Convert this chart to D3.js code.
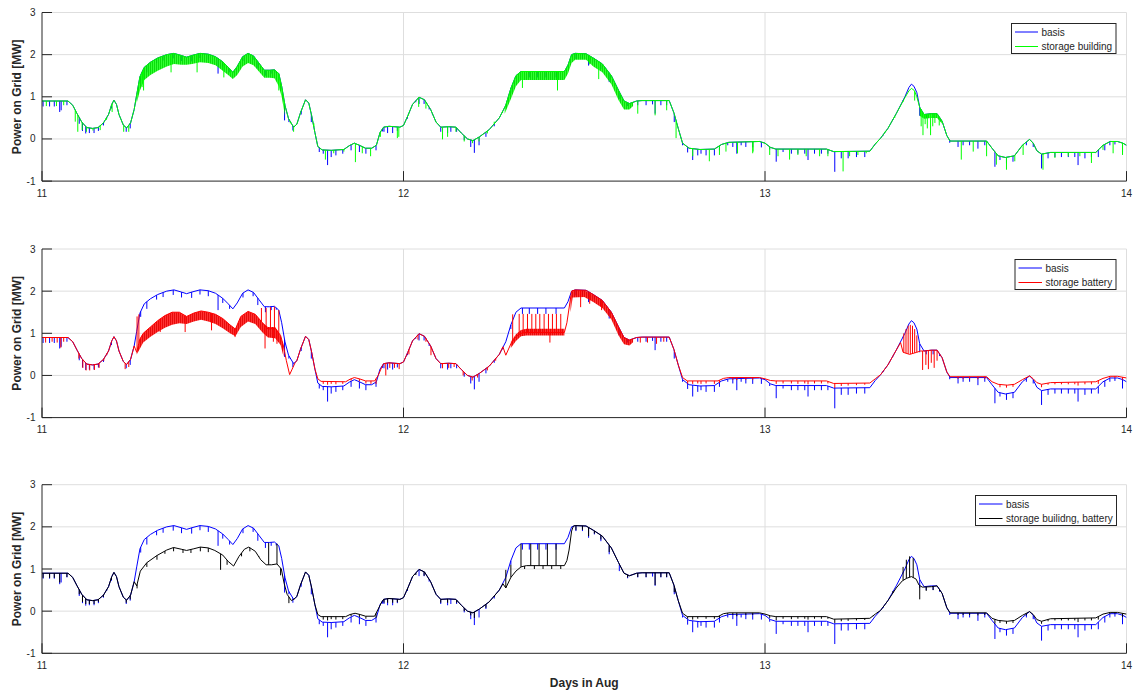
<!DOCTYPE html>
<html>
<head>
<meta charset="utf-8">
<script src="https://cdn.jsdelivr.net/npm/d3@7"></script>
<style>
  body { margin: 0; background: #fff; }
  svg { display: block; font-family: "Liberation Sans", Arial, Helvetica, sans-serif; }
</style>
</head>
<body>
<svg id="chart" width="1137" height="693"></svg>
<script>
// ---- axis ticks ----
const dayTicks = [11, 12, 13, 14];
const powerTicks = [-1, 0, 1, 2, 3];

// ---- basis: grid power without storage [day, MW] ----
const basis = [
  [11.000,0.90],[11.072,0.90],[11.085,0.80],[11.097,0.60],[11.110,0.40],[11.124,0.27],[11.140,0.25],
  [11.155,0.27],[11.170,0.38],[11.184,0.58],[11.193,0.82],[11.199,0.92],[11.206,0.82],[11.213,0.58],
  [11.225,0.33],[11.234,0.26],[11.245,0.38],[11.255,0.70],[11.262,1.05],[11.271,1.48],[11.283,1.70],
  [11.300,1.82],[11.320,1.92],[11.345,2.00],[11.365,2.03],[11.385,1.98],[11.400,1.94],[11.415,1.98],
  [11.437,2.03],[11.460,2.01],[11.480,1.95],[11.500,1.83],[11.515,1.70],[11.528,1.58],[11.540,1.72],
  [11.555,1.95],[11.570,2.03],[11.585,1.97],[11.600,1.80],[11.615,1.63],[11.630,1.63],[11.643,1.64],
  [11.655,1.55],[11.663,1.25],[11.672,0.80],[11.682,0.48],[11.696,0.28],[11.705,0.35],[11.715,0.62],
  [11.729,0.93],[11.738,0.85],[11.746,0.55],[11.755,0.15],[11.763,-0.18],[11.775,-0.26],[11.800,-0.27],
  [11.835,-0.25],[11.850,-0.16],[11.864,-0.10],[11.878,-0.15],[11.895,-0.22],[11.912,-0.22],[11.925,-0.15],
  [11.935,0.15],[11.945,0.28],[11.960,0.30],[11.990,0.28],[12.000,0.32],[12.012,0.55],[12.025,0.82],
  [12.043,0.99],[12.058,0.93],[12.075,0.70],[12.090,0.40],[12.103,0.28],[12.125,0.29],[12.145,0.28],
  [12.160,0.14],[12.177,0.00],[12.192,-0.04],[12.210,0.05],[12.237,0.22],[12.265,0.50],[12.283,0.80],
  [12.297,1.20],[12.311,1.50],[12.325,1.60],[12.445,1.60],[12.455,1.75],[12.465,2.00],[12.475,2.03],
  [12.505,2.02],[12.525,1.92],[12.550,1.78],[12.575,1.50],[12.595,1.15],[12.610,0.90],[12.625,0.84],
  [12.645,0.90],[12.660,0.91],[12.735,0.91],[12.748,0.62],[12.760,0.25],[12.772,-0.10],[12.790,-0.22],
  [12.820,-0.25],[12.860,-0.24],[12.880,-0.13],[12.900,-0.08],[12.985,-0.06],[13.000,-0.10],[13.015,-0.20],
  [13.030,-0.24],[13.170,-0.24],[13.190,-0.30],[13.290,-0.29],[13.305,-0.12],[13.320,0.02],[13.340,0.25],
  [13.363,0.60],[13.387,1.00],[13.398,1.22],[13.405,1.30],[13.412,1.25],[13.420,1.10],[13.428,0.75],
  [13.440,0.58],[13.460,0.60],[13.476,0.60],[13.490,0.42],[13.503,0.08],[13.512,-0.05],[13.613,-0.05],
  [13.628,-0.22],[13.645,-0.40],[13.665,-0.44],[13.690,-0.40],[13.712,-0.15],[13.732,-0.01],[13.742,-0.10],
  [13.752,-0.28],[13.765,-0.36],[13.790,-0.32],[13.915,-0.32],[13.935,-0.15],[13.955,-0.06],[13.975,-0.06],
  [13.990,-0.10],[14.000,-0.15]
];
// short dips of the basis series [day, MW at dip]
const basisDips = [
  [11.003,0.77],[11.021,0.77],[11.034,0.77],[11.049,0.64],[11.053,0.68],[11.069,0.80],[11.103,0.36],
  [11.112,0.19],[11.121,0.13],[11.131,0.14],[11.144,0.14],[11.156,0.19],[11.170,0.32],[11.179,0.48],
  [11.192,0.72],[11.233,0.17],[11.244,0.25],[11.273,1.39],[11.290,1.58],[11.317,1.80],[11.335,1.86],
  [11.363,1.91],[11.386,1.85],[11.414,1.84],[11.437,1.92],[11.460,1.88],[11.487,1.55],[11.500,1.72],
  [11.519,1.58],[11.556,1.85],[11.584,1.88],[11.597,1.67],[11.618,1.50],[11.634,1.55],[11.648,1.56],
  [11.671,0.44],[11.683,0.40],[11.694,0.20],[11.717,0.58],[11.745,0.40],[11.767,-0.31],[11.778,-0.35],
  [11.790,-0.62],[11.800,-0.43],[11.813,-0.39],[11.832,-0.35],[11.855,-0.27],[11.878,-0.31],[11.896,-0.35],
  [11.924,-0.27],[11.942,0.18],[11.946,0.17],[11.956,0.14],[11.970,0.14],[11.983,0.19],[12.011,0.48],
  [12.034,0.87],[12.043,0.83],[12.057,0.83],[12.071,0.70],[12.080,0.58],[12.103,0.17],[12.122,0.14],
  [12.131,0.17],[12.147,0.17],[12.168,-0.03],[12.186,-0.19],[12.196,-0.33],[12.209,-0.15],[12.228,0.05],
  [12.251,0.30],[12.274,0.62],[12.297,1.10],[12.329,1.46],[12.348,1.46],[12.371,1.46],[12.394,1.46],
  [12.422,1.46],[12.477,1.90],[12.495,1.90],[12.512,1.74],[12.528,1.82],[12.546,1.66],[12.569,1.35],
  [12.597,0.95],[12.620,0.78],[12.648,0.80],[12.671,0.80],[12.689,0.82],[12.696,0.60],[12.712,0.80],
  [12.728,0.80],[12.749,0.40],[12.772,-0.15],[12.786,-0.32],[12.800,-0.50],[12.814,-0.39],[12.823,-0.35],
  [12.837,-0.39],[12.860,-0.39],[12.874,-0.27],[12.897,-0.15],[12.911,-0.19],[12.922,-0.35],[12.934,-0.15],
  [12.947,-0.19],[12.966,-0.20],[12.990,-0.20],[13.013,-0.25],[13.031,-0.54],[13.050,-0.31],[13.073,-0.35],
  [13.091,-0.35],[13.110,-0.35],[13.119,-0.50],[13.137,-0.35],[13.156,-0.35],[13.174,-0.35],[13.193,-0.78],
  [13.211,-0.46],[13.230,-0.46],[13.253,-0.43],[13.276,-0.43],[13.299,-0.19],[13.327,0.08],[13.354,0.45],
  [13.382,0.90],[13.428,0.55],[13.446,0.50],[13.465,0.50],[13.483,0.46],[13.511,-0.09],[13.534,-0.19],
  [13.548,-0.15],[13.566,-0.15],[13.589,-0.23],[13.608,-0.15],[13.636,-0.66],[13.650,-0.50],[13.668,-0.58],
  [13.686,-0.54],[13.723,-0.15],[13.742,-0.19],[13.765,-0.70],[13.783,-0.46],[13.802,-0.43],[13.820,-0.43],
  [13.839,-0.43],[13.857,-0.43],[13.866,-0.62],[13.885,-0.46],[13.903,-0.43],[13.922,-0.43],[13.940,-0.27],
  [13.954,-0.15],[13.968,-0.13],[13.989,-0.31]
];

// ---- storage building [day, MW] ----
const buildingPeak = [[13.387,0.98],[13.398,1.14],[13.405,1.20],[13.413,1.15],[13.420,1.00]];
const building = basis.filter(d => d[0] < 13.38 || d[0] > 13.425).concat(buildingPeak)
  .sort((a, b) => a[0] - b[0]);
// ranges with fast switching [day, upper MW, lower MW]
const buildingBands = [
  [[11.262,1.05,0.85],[11.271,1.48,1.15],[11.283,1.70,1.40],[11.300,1.82,1.52],[11.320,1.92,1.62],
   [11.345,2.00,1.72],[11.365,2.03,1.78],[11.385,1.98,1.76],[11.400,1.94,1.76],[11.415,1.98,1.78],
   [11.437,2.03,1.82],[11.460,2.01,1.80],[11.480,1.95,1.75],[11.500,1.83,1.62],[11.515,1.70,1.52],
   [11.528,1.58,1.42],[11.540,1.72,1.52],[11.555,1.95,1.72],[11.570,2.03,1.80],[11.585,1.97,1.75],
   [11.600,1.80,1.60],[11.615,1.63,1.45],[11.630,1.63,1.45],[11.643,1.64,1.44],[11.655,1.55,1.25],
   [11.663,1.25,1.00],[11.672,0.80,0.55]],
  [[12.280,0.75,0.60],[12.297,1.20,0.95],[12.311,1.50,1.25],[12.325,1.60,1.40],[12.445,1.60,1.40],
   [12.455,1.75,1.55],[12.465,2.00,1.80],[12.475,2.03,1.88],[12.505,2.02,1.88],[12.525,1.92,1.72],
   [12.550,1.78,1.58],[12.575,1.50,1.30],[12.595,1.15,0.92],[12.610,0.90,0.70],[12.625,0.84,0.70],
   [12.635,0.87,0.78]],
  [[13.428,0.75,0.55],[13.440,0.58,0.48],[13.460,0.60,0.50],[13.476,0.60,0.50],[13.490,0.42,0.36]]
];
const buildingDips = [
  [11.012,0.78],[11.040,0.78],[11.060,0.80],[11.092,0.41],[11.099,0.17],[11.111,0.21],[11.123,0.17],
  [11.141,0.20],[11.161,0.21],[11.178,0.45],[11.194,0.64],[11.226,0.17],[11.240,0.17],[11.277,1.23],
  [11.281,1.15],[11.357,1.58],[11.429,1.58],[11.503,1.46],[11.521,1.50],[11.655,1.15],[11.687,0.37],
  [11.696,0.17],[11.715,0.60],[11.752,0.37],[11.784,-0.49],[11.807,-0.34],[11.835,-0.30],[11.867,-0.55],
  [11.886,-0.34],[11.909,-0.41],[11.936,0.05],[11.983,0.02],[11.987,0.05],[12.014,0.56],[12.042,0.76],
  [12.062,0.72],[12.080,0.60],[12.108,-0.01],[12.122,0.05],[12.145,0.17],[12.168,-0.06],[12.191,-0.10],
  [12.209,-0.06],[12.232,0.13],[12.251,0.41],[12.274,0.62],[12.329,1.21],[12.426,1.15],[12.514,1.77],
  [12.540,1.42],[12.648,0.60],[12.696,0.56],[12.728,0.68],[12.754,0.02],[12.800,-0.41],[12.846,-0.53],
  [12.874,-0.38],[12.892,-0.30],[12.924,-0.34],[12.966,-0.34],[12.967,-0.30],[13.013,-0.38],[13.036,-0.41],
  [13.068,-0.49],[13.091,-0.38],[13.114,-0.41],[13.151,-0.41],[13.174,-0.41],[13.216,-0.77],[13.234,-0.41],
  [13.257,-0.38],[13.280,-0.34],[13.308,-0.10],[13.331,0.17],[13.359,0.50],[13.382,0.88],[13.414,0.91],
  [13.432,0.30],[13.437,0.09],[13.443,0.35],[13.449,0.25],[13.458,0.09],[13.464,0.30],[13.470,0.38],
  [13.482,0.32],[13.543,-0.49],[13.576,-0.30],[13.613,-0.41],[13.640,-0.61],[13.668,-0.73],
  [13.691,-0.53],[13.714,-0.38],[13.769,-0.73],[13.802,-0.45],[13.839,-0.41],[13.871,-0.41],[13.903,-0.57],
  [13.935,-0.26],[13.963,-0.34],[13.989,-0.38]
];

// ---- storage battery [day, MW] ----
const battery = [
  [11.000,0.90],[11.072,0.90],[11.085,0.80],[11.097,0.60],[11.110,0.40],[11.124,0.27],[11.140,0.25],
  [11.155,0.27],[11.170,0.38],[11.184,0.58],[11.193,0.82],[11.199,0.92],[11.206,0.82],[11.213,0.58],
  [11.225,0.33],[11.234,0.26],[11.245,0.38],[11.255,0.70],[11.262,0.55],[11.270,0.85],[11.280,1.00],
  [11.300,1.15],[11.320,1.30],[11.340,1.42],[11.360,1.50],[11.380,1.50],[11.400,1.40],[11.420,1.48],
  [11.440,1.53],[11.460,1.50],[11.480,1.45],[11.500,1.35],[11.520,1.20],[11.535,1.10],[11.550,1.40],
  [11.570,1.52],[11.590,1.45],[11.610,1.25],[11.625,1.10],[11.645,1.12],[11.660,0.95],[11.668,0.70],
  [11.676,0.35],[11.685,0.02],[11.692,0.15],[11.700,0.30],[11.705,0.35],[11.715,0.62],[11.729,0.93],
  [11.738,0.85],[11.746,0.55],[11.755,0.15],[11.763,-0.08],[11.772,-0.14],[11.840,-0.15],[11.852,-0.09],
  [11.864,-0.05],[11.878,-0.08],[11.895,-0.13],[11.920,-0.13],[11.930,0.00],[11.940,0.20],[11.945,0.28],
  [11.960,0.30],[11.990,0.28],[12.000,0.32],[12.012,0.55],[12.025,0.82],[12.043,0.99],[12.058,0.93],
  [12.075,0.70],[12.090,0.40],[12.103,0.28],[12.125,0.29],[12.145,0.28],[12.160,0.14],[12.177,0.00],
  [12.192,-0.04],[12.210,0.05],[12.237,0.22],[12.265,0.50],[12.275,0.68],[12.283,0.48],[12.297,0.75],
  [12.311,0.92],[12.325,1.00],[12.340,1.02],[12.445,1.02],[12.452,1.25],[12.458,1.60],[12.465,2.00],
  [12.475,2.03],[12.505,2.02],[12.525,1.92],[12.550,1.78],[12.575,1.50],[12.595,1.15],[12.610,0.90],
  [12.625,0.84],[12.645,0.90],[12.660,0.91],[12.735,0.91],[12.748,0.62],[12.760,0.25],[12.772,-0.05],
  [12.785,-0.13],[12.870,-0.13],[12.885,-0.07],[12.900,-0.05],[12.985,-0.05],[13.000,-0.08],[13.015,-0.12],
  [13.030,-0.13],[13.170,-0.13],[13.190,-0.19],[13.290,-0.18],[13.305,-0.08],[13.320,0.02],[13.340,0.25],
  [13.363,0.60],[13.375,0.78],[13.382,0.55],[13.400,0.50],[13.420,0.55],[13.430,0.58],[13.440,0.58],
  [13.460,0.60],[13.476,0.60],[13.490,0.42],[13.503,0.08],[13.512,-0.03],[13.613,-0.03],[13.628,-0.15],
  [13.645,-0.21],[13.670,-0.23],[13.690,-0.21],[13.712,-0.10],[13.732,-0.01],[13.742,-0.08],[13.752,-0.17],
  [13.765,-0.21],[13.790,-0.17],[13.915,-0.15],[13.935,-0.07],[13.955,-0.02],[13.975,-0.02],[14.000,-0.06]
];
const batteryBands = [
  [[11.262,0.55,0.50],[11.270,0.85,0.62],[11.280,1.00,0.78],[11.300,1.15,0.92],[11.320,1.30,1.03],
   [11.340,1.42,1.13],[11.360,1.50,1.20],[11.380,1.50,1.24],[11.400,1.40,1.22],[11.420,1.48,1.28],
   [11.440,1.53,1.32],[11.460,1.50,1.28],[11.480,1.45,1.22],[11.500,1.35,1.12],[11.520,1.20,1.00],
   [11.535,1.10,0.93],[11.550,1.40,1.15],[11.570,1.52,1.28],[11.590,1.45,1.22],[11.610,1.25,1.02],
   [11.625,1.15,0.90],[11.645,1.15,0.88],[11.660,0.95,0.72],[11.668,0.70,0.45]],
  [[12.297,0.80,0.65],[12.311,0.98,0.82],[12.325,1.08,0.93],[12.340,1.11,0.95],[12.445,1.11,0.95]],
  [[12.462,1.85,1.50],[12.468,2.03,1.85],[12.500,2.02,1.86],[12.525,1.92,1.74],[12.550,1.78,1.60],
   [12.575,1.50,1.33],[12.595,1.15,0.95],[12.610,0.90,0.74],[12.625,0.84,0.71],[12.635,0.87,0.79]]
];
const batteryDips = [
  [11.010,0.78],[11.028,0.80],[11.042,0.78],[11.052,0.66],[11.060,0.80],[11.102,0.40],[11.113,0.18],
  [11.122,0.12],[11.132,0.12],[11.145,0.13],[11.158,0.18],[11.171,0.35],[11.180,0.50],[11.230,0.15],
  [11.240,0.20],[11.263,1.40],[11.268,1.45],[11.327,1.03],[11.396,1.03],[11.469,1.07],[11.534,0.91],
  [11.607,1.60],[11.617,0.64],[11.620,1.60],[11.632,1.62],[11.640,0.80],[11.643,1.63],[11.650,0.75],
  [11.655,1.55],[11.778,-0.20],[11.790,-0.22],[11.800,-0.20],[11.813,-0.21],[11.832,-0.20],
  [11.855,-0.12],[11.878,-0.14],[11.896,-0.19],[11.910,-0.20],[11.924,-0.20],[11.951,0.00],[11.962,0.18],
  [11.975,0.18],[11.988,0.15],[12.015,0.50],[12.040,0.85],[12.062,0.80],[12.076,0.48],[12.108,0.17],
  [12.125,0.18],[12.140,0.20],[12.165,0.00],[12.190,-0.12],[12.205,-0.05],[12.232,0.12],[12.255,0.35],
  [12.302,1.45],[12.320,1.46],[12.331,1.46],[12.343,1.46],[12.355,1.46],[12.366,1.46],[12.377,1.46],
  [12.389,1.46],[12.401,1.46],[12.412,1.46],[12.423,1.46],[12.435,1.46],[12.405,0.78],[12.490,1.62],
  [12.515,1.70],[12.548,1.55],[12.655,0.78],[12.675,0.78],[12.700,0.75],[12.720,0.80],[12.786,-0.19],
  [12.800,-0.20],[12.814,-0.19],[12.823,-0.20],[12.837,-0.19],[12.860,-0.20],[12.874,-0.18],[12.911,-0.10],
  [12.922,-0.11],[12.947,-0.10],[12.966,-0.10],[13.031,-0.20],[13.050,-0.19],[13.073,-0.19],[13.091,-0.20],
  [13.110,-0.19],[13.119,-0.21],[13.137,-0.19],[13.156,-0.19],[13.174,-0.19],[13.193,-0.30],[13.211,-0.25],
  [13.230,-0.24],[13.253,-0.23],[13.276,-0.22],[13.384,1.00],[13.390,1.10],[13.396,1.18],[13.402,1.20],
  [13.408,1.18],[13.414,1.10],[13.420,0.95],[13.436,0.13],[13.445,0.25],[13.452,0.15],[13.460,0.30],
  [13.468,0.18],[13.476,0.35],[13.534,-0.08],[13.548,-0.08],[13.566,-0.08],[13.589,-0.09],[13.608,-0.08],
  [13.650,-0.28],[13.668,-0.29],[13.686,-0.27],[13.765,-0.28],[13.783,-0.22],[13.802,-0.21],[13.820,-0.21],
  [13.839,-0.21],[13.857,-0.21],[13.866,-0.24],[13.885,-0.21],[13.903,-0.21],[13.922,-0.20],[13.954,-0.06],
  [13.968,-0.06],[13.989,-0.10]
];

// ---- storage building + battery [day, MW] ----
const combined = [
  [11.000,0.90],[11.072,0.90],[11.085,0.80],[11.097,0.60],[11.110,0.40],[11.124,0.27],[11.140,0.25],
  [11.155,0.27],[11.170,0.38],[11.184,0.58],[11.193,0.82],[11.199,0.92],[11.206,0.82],[11.213,0.58],
  [11.225,0.33],[11.234,0.26],[11.245,0.38],[11.255,0.70],[11.262,0.60],[11.272,0.95],[11.290,1.15],
  [11.318,1.32],[11.345,1.45],[11.364,1.51],[11.385,1.47],[11.400,1.44],[11.420,1.48],[11.438,1.52],
  [11.460,1.50],[11.478,1.44],[11.500,1.33],[11.515,1.18],[11.530,1.07],[11.545,1.30],[11.560,1.47],
  [11.572,1.52],[11.590,1.42],[11.605,1.22],[11.620,1.10],[11.635,1.10],[11.650,1.12],[11.662,1.00],
  [11.670,0.65],[11.678,0.40],[11.690,0.25],[11.700,0.30],[11.705,0.35],[11.715,0.62],[11.729,0.93],
  [11.738,0.85],[11.746,0.55],[11.755,0.15],[11.763,-0.08],[11.772,-0.13],[11.840,-0.13],[11.852,-0.08],
  [11.866,-0.05],[11.880,-0.08],[11.895,-0.12],[11.920,-0.12],[11.930,0.05],[11.940,0.22],[11.945,0.28],
  [11.960,0.30],[11.990,0.28],[12.000,0.32],[12.012,0.55],[12.025,0.82],[12.043,0.99],[12.058,0.93],
  [12.075,0.70],[12.090,0.40],[12.103,0.28],[12.125,0.29],[12.145,0.28],[12.160,0.14],[12.177,0.00],
  [12.192,-0.04],[12.210,0.05],[12.237,0.22],[12.265,0.50],[12.275,0.65],[12.283,0.55],[12.297,0.80],
  [12.311,0.95],[12.325,1.05],[12.340,1.08],[12.445,1.08],[12.452,1.20],[12.458,1.45],[12.465,1.90],
  [12.470,2.02],[12.475,2.03],[12.505,2.02],[12.525,1.92],[12.550,1.78],[12.575,1.50],[12.595,1.15],
  [12.610,0.90],[12.625,0.84],[12.645,0.90],[12.660,0.91],[12.735,0.91],[12.748,0.62],[12.760,0.25],
  [12.772,-0.05],[12.785,-0.13],[12.870,-0.13],[12.885,-0.06],[12.900,-0.04],[12.985,-0.04],[13.000,-0.07],
  [13.015,-0.11],[13.030,-0.13],[13.170,-0.13],[13.190,-0.19],[13.290,-0.17],[13.305,-0.07],[13.320,0.02],
  [13.340,0.25],[13.363,0.55],[13.380,0.72],[13.392,0.78],[13.405,0.82],[13.418,0.76],[13.426,0.62],
  [13.435,0.57],[13.460,0.58],[13.476,0.60],[13.490,0.42],[13.503,0.08],[13.512,-0.04],[13.613,-0.04],
  [13.628,-0.17],[13.645,-0.22],[13.670,-0.24],[13.690,-0.22],[13.712,-0.10],[13.732,-0.01],[13.742,-0.08],
  [13.752,-0.20],[13.765,-0.24],[13.790,-0.18],[13.915,-0.16],[13.935,-0.07],[13.955,-0.03],[13.975,-0.03],
  [14.000,-0.07]
];
const combinedDips = [
  [11.003,0.79],[11.021,0.79],[11.034,0.79],[11.049,0.68],[11.069,0.81],[11.103,0.40],[11.112,0.22],
  [11.121,0.17],[11.131,0.17],[11.144,0.17],[11.156,0.22],[11.170,0.34],[11.179,0.50],[11.192,0.74],
  [11.233,0.20],[11.244,0.28],[11.263,0.54],[11.290,1.05],[11.318,1.22],[11.340,1.36],[11.364,1.42],
  [11.390,1.38],[11.412,1.38],[11.438,1.42],[11.460,1.40],[11.494,0.98],[11.512,1.10],[11.552,1.30],
  [11.575,1.42],[11.600,1.30],[11.627,1.62],[11.650,1.60],[11.660,0.85],[11.683,0.19],[11.778,-0.20],
  [11.790,-0.22],[11.800,-0.19],[11.813,-0.20],[11.832,-0.19],[11.855,-0.12],[11.878,-0.14],[11.896,-0.18],
  [11.924,-0.16],[11.946,0.20],[11.956,0.20],[11.970,0.20],[11.983,0.21],[12.011,0.50],[12.034,0.86],
  [12.057,0.84],[12.071,0.76],[12.103,0.20],[12.122,0.20],[12.147,0.20],[12.168,0.00],[12.186,-0.10],
  [12.196,-0.16],[12.228,0.08],[12.251,0.34],[12.283,0.98],[12.297,1.10],[12.325,1.60],[12.335,1.00],
  [12.352,1.60],[12.362,1.00],[12.375,1.60],[12.386,1.00],[12.398,1.60],[12.410,1.00],[12.422,1.60],
  [12.435,1.00],[12.477,1.92],[12.495,1.93],[12.512,1.78],[12.528,1.84],[12.546,1.70],[12.569,1.40],
  [12.620,0.80],[12.648,0.81],[12.671,0.81],[12.696,0.62],[12.712,0.81],[12.728,0.81],[12.749,0.45],
  [12.786,-0.18],[12.800,-0.20],[12.814,-0.18],[12.837,-0.18],[12.860,-0.18],[12.874,-0.16],[12.897,-0.08],
  [12.911,-0.09],[12.922,-0.12],[12.947,-0.09],[12.966,-0.09],[13.013,-0.16],[13.031,-0.22],[13.050,-0.18],
  [13.073,-0.19],[13.091,-0.18],[13.110,-0.18],[13.119,-0.20],[13.137,-0.18],[13.156,-0.18],[13.174,-0.18],
  [13.193,-0.28],[13.211,-0.24],[13.230,-0.23],[13.253,-0.22],[13.276,-0.21],[13.299,-0.12],[13.327,0.10],
  [13.354,0.48],[13.382,1.05],[13.391,1.22],[13.400,1.30],[13.410,1.26],[13.428,0.28],[13.446,0.48],
  [13.465,0.50],[13.483,0.48],[13.534,-0.09],[13.548,-0.09],[13.566,-0.09],[13.589,-0.10],[13.608,-0.09],
  [13.636,-0.30],[13.650,-0.28],[13.668,-0.30],[13.686,-0.28],[13.723,-0.10],[13.765,-0.30],[13.783,-0.24],
  [13.802,-0.22],[13.820,-0.22],[13.839,-0.22],[13.857,-0.22],[13.866,-0.26],[13.885,-0.22],[13.903,-0.22],
  [13.922,-0.20],[13.954,-0.07],[13.968,-0.06],[13.989,-0.14]
];

// ---- figure layout ----
const svg = d3.select("#chart");
const plotLeft = 42, plotRight = 1126.5, plotHeight = 168.6;
const axisColor = "#262626", gridColor = "#dedede";
const x = d3.scaleLinear().domain([11, 14]).range([plotLeft, plotRight]);

const basisSeries = { key: "basis", name: "basis", color: "#0000ff", base: basis, dips: basisDips, bands: [] };
const panels = [
  { top: 12.5, legend: { x: 1011.5, y: 23.5, w: 104.5, line: 23 },
    series: [basisSeries,
      { key: "building", name: "storage building", color: "#00ff00", base: building, dips: buildingDips, bands: buildingBands }] },
  { top: 249, legend: { x: 1015, y: 259.5, w: 101, line: 23.5 },
    series: [basisSeries,
      { key: "battery", name: "storage battery", color: "#ff0000", base: battery, dips: batteryDips, bands: batteryBands }] },
  { top: 484.7, legend: { x: 975.5, y: 495.5, w: 141, line: 23.5 },
    series: [basisSeries,
      { key: "combined", name: "storage builidng, battery", color: "#000000", base: combined, dips: combinedDips, bands: [] }] }
];

// stripe fills for the fast-switching ranges
const defs = svg.append("defs");
[["building", "#00ff00", "#00d400"], ["battery", "#ff0000", "#e00000"]].forEach(([key, c, dark]) => {
  const p = defs.append("pattern").attr("id", "stripes-" + key)
    .attr("patternUnits", "userSpaceOnUse").attr("width", 2).attr("height", 8);
  p.append("rect").attr("width", 2).attr("height", 8).attr("fill", c).attr("opacity", 0.8);
  p.append("rect").attr("width", 0.8).attr("height", 8).attr("fill", dark);
});

panels.forEach((panel, i) => {
  const bottom = panel.top + plotHeight;
  const y = d3.scaleLinear().domain([-1, 3]).range([bottom, panel.top]);
  const g = svg.append("g");

  // grid
  g.append("g").selectAll("line").data(powerTicks.filter(v => v > -1)).join("line")
    .attr("x1", plotLeft).attr("x2", plotRight).attr("y1", d => y(d)).attr("y2", d => y(d))
    .attr("stroke", gridColor).attr("stroke-width", 1);
  g.append("g").selectAll("line").data(dayTicks.filter(v => v > 11)).join("line")
    .attr("x1", d => x(d)).attr("x2", d => x(d)).attr("y1", panel.top).attr("y2", bottom)
    .attr("stroke", gridColor).attr("stroke-width", 1);

  // data
  const clipId = "clip" + i;
  defs.append("clipPath").attr("id", clipId).append("rect")
    .attr("x", plotLeft).attr("y", panel.top).attr("width", plotRight - plotLeft).attr("height", plotHeight);
  const data = g.append("g").attr("clip-path", `url(#${clipId})`);

  panel.series.forEach(s => {
    const level = d3.scaleLinear().domain(s.base.map(d => d[0])).range(s.base.map(d => d[1]));
    const sg = data.append("g");
    s.bands.forEach(b => {
      sg.append("path").datum(b)
        .attr("d", d3.area().x(d => x(d[0])).y0(d => y(d[2])).y1(d => y(d[1])))
        .attr("fill", `url(#stripes-${s.key})`);
    });
    sg.append("path").datum(s.base)
      .attr("d", d3.line().x(d => x(d[0])).y(d => y(d[1])))
      .attr("fill", "none").attr("stroke", s.color).attr("stroke-width", 1)
      .attr("stroke-linejoin", "round");
    sg.append("g").selectAll("line").data(s.dips).join("line")
      .attr("x1", d => x(d[0])).attr("x2", d => x(d[0]))
      .attr("y1", d => y(level(d[0]))).attr("y2", d => y(d[1]))
      .attr("stroke", s.color).attr("stroke-width", 1);
  });

  // axes (left and bottom only, ticks inside)
  const ax = g.append("g").attr("stroke", axisColor).attr("stroke-width", 1);
  ax.append("line").attr("x1", plotLeft).attr("x2", plotLeft).attr("y1", panel.top).attr("y2", bottom);
  ax.append("line").attr("x1", plotLeft).attr("x2", plotRight).attr("y1", bottom).attr("y2", bottom);
  ax.selectAll(".yt").data(powerTicks).join("line").attr("class", "yt")
    .attr("x1", plotLeft).attr("x2", plotLeft + 10).attr("y1", d => y(d)).attr("y2", d => y(d));
  ax.selectAll(".xt").data(dayTicks).join("line").attr("class", "xt")
    .attr("x1", d => x(d)).attr("x2", d => x(d)).attr("y1", bottom).attr("y2", bottom - 10);

  g.append("g").selectAll("text").data(powerTicks).join("text")
    .attr("x", plotLeft - 6.5).attr("y", d => y(d)).attr("dy", "0.35em")
    .attr("text-anchor", "end").attr("font-size", 10).attr("fill", axisColor)
    .text(d => d);
  g.append("g").selectAll("text").data(dayTicks).join("text")
    .attr("x", d => x(d)).attr("y", bottom + 12).attr("dy", "0.35em")
    .attr("text-anchor", "middle").attr("font-size", 10).attr("fill", axisColor)
    .text(d => d);

  g.append("text")
    .attr("transform", `translate(17,${panel.top + plotHeight / 2}) rotate(-90)`)
    .attr("dy", "0.35em").attr("text-anchor", "middle")
    .attr("font-size", 12).attr("font-weight", "bold").attr("fill", axisColor)
    .text("Power on Grid [MW]");

  // legend
  const L = panel.legend;
  const lg = g.append("g");
  lg.append("rect").attr("x", L.x).attr("y", L.y).attr("width", L.w).attr("height", 30)
    .attr("fill", "#fff").attr("stroke", axisColor).attr("stroke-width", 1);
  panel.series.forEach((s, k) => {
    const ry = L.y + 8.5 + k * 14.5;
    lg.append("line").attr("x1", L.x + 3.5).attr("x2", L.x + 3.5 + L.line)
      .attr("y1", ry).attr("y2", ry).attr("stroke", s.color).attr("stroke-width", 1);
    lg.append("text").attr("x", L.x + 7 + L.line).attr("y", ry).attr("dy", "0.35em")
      .attr("font-size", 10).attr("fill", axisColor).text(s.name);
  });
});

svg.append("text").attr("x", (plotLeft + plotRight) / 2).attr("y", 683).attr("dy", "0.35em")
  .attr("text-anchor", "middle").attr("font-size", 12).attr("font-weight", "bold").attr("fill", axisColor)
  .text("Days in Aug");
</script>
</body>
</html>
